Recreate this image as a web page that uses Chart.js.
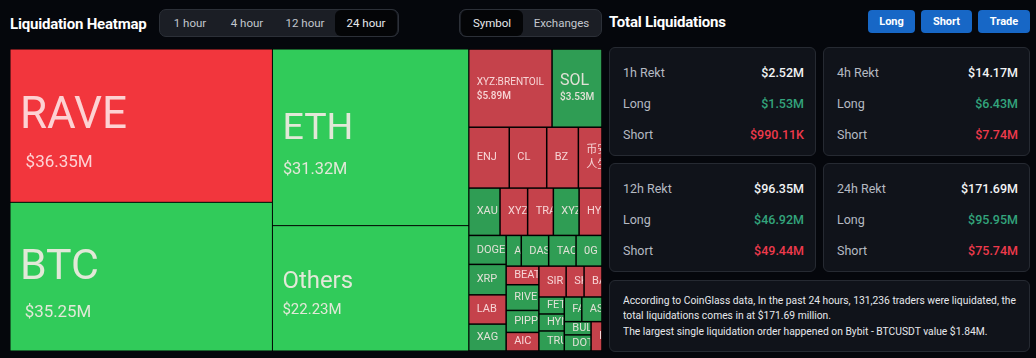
<!DOCTYPE html>
<html>
<head>
<meta charset="utf-8">
<script src="https://cdn.jsdelivr.net/npm/chart.js@4.4.1/dist/chart.umd.min.js"></script>
<style>
body{margin:0;background:#05070c;width:1036px;height:358px;overflow:hidden;font-family:Roboto,"Noto Sans",sans-serif;color:#fff;position:relative}
.title{position:absolute;font-weight:700;font-size:15px;letter-spacing:-0.2px;line-height:18px}
.seg{position:absolute;top:9px;height:28px;box-sizing:border-box;border:1px solid #2c3038;border-radius:7px;background:#1b1e25;display:flex;align-items:center;padding:0 1px}
.seg span{font-size:11.5px;color:#c3c7ce;text-align:center;height:26px;line-height:26px;border-radius:6px}
.seg span.on{background:#040507;color:#e8eaee}
.btn{position:absolute;top:10px;height:23px;line-height:23px;border-radius:4px;background:#1767c6;color:#fff;font-weight:700;font-size:11px;text-align:center}
.card{position:absolute;box-sizing:border-box;background:#10131a;border:1px solid #262a32;border-radius:6px}
.row{position:absolute;left:13px;right:11px;display:flex;justify-content:space-between;font-size:12.5px;height:16px;line-height:16px}
.row .k{color:#b5bac2}
.row .v{font-weight:500;color:#f2f3f5}
.row .v.g{color:#33a47c}
.row .v.r{color:#ee3a4c}
.info{position:absolute;left:13px;top:12px;font-size:11px;line-height:15.4px;color:#e6e8ec;white-space:nowrap;transform-origin:0 0}
.info span{display:block}
#heat{position:absolute;left:10px;top:49px}
</style>
</head>
<body>
<div class="title" style="left:10px;top:15px">Liquidation Heatmap</div>
<div class="seg" style="left:159px">
  <span style="width:58px">1 hour</span><span style="width:56px">4 hour</span><span style="width:60px">12 hour</span><span class="on" style="width:62px">24 hour</span>
</div>
<div class="seg" style="left:459px">
  <span class="on" style="width:62px">Symbol</span><span style="width:77px">Exchanges</span>
</div>

<canvas id="heat" width="592" height="302"></canvas>

<div class="title" style="left:609px;top:13px">Total Liquidations</div>
<div class="btn" style="left:868px;width:47px">Long</div>
<div class="btn" style="left:921px;width:51px">Short</div>
<div class="btn" style="left:978px;width:52px">Trade</div>

<div id="cards"></div>
<div class="card" style="left:609px;top:280px;width:421px;height:72px">
  <div class="info" id="info">
    <span id="line1">According to CoinGlass data, In the past 24 hours, 131,236 traders were liquidated, the</span>
    <span>total liquidations comes in at $171.69 million.</span>
    <span>The largest single liquidation order happened on Bybit - BTCUSDT value $1.84M.</span>
  </div>
</div>

<script>
// Treemap data (millions USD)
const symbols = ['RAVE', 'BTC', 'ETH', 'Others', 'XYZ:BRENTOIL', 'SOL', 'ENJ', 'CL', 'BZ', '币安人生',
  'XAU', 'XYZ:CL', 'TRADOOR', 'XYZ:SP500', 'HYPE', 'DOGE', 'XRP', 'LAB', 'XAG', 'AVAX',
  'DASH', 'TAO', '0G', 'BEAT', 'RIVER', 'PIPPIN', 'AIC', 'SIR', 'SKY', 'BANK',
  'FET', 'HYNA', 'TRUMP', 'FARTCOIN', 'ASTER', 'BULLA', 'DOT', 'INJ'];
const values = [36.35, 35.25, 31.32, 22.23, 5.89, 3.53, 2.23, 2.06, 1.74, 1.30,
  1.34, 1.18, 1.10, 1.10, 0.98, 0.98, 1.03, 0.99, 0.91, 0.42,
  0.76, 0.76, 0.72, 0.55, 0.76, 0.65, 0.55, 0.76, 0.50, 0.50,
  0.39, 0.39, 0.46, 0.39, 0.45, 0.32, 0.39, 0.29];
const direction = ['down', 'up', 'up', 'up', 'down', 'up', 'down', 'down', 'down', 'down',
  'up', 'down', 'down', 'up', 'down', 'up', 'up', 'down', 'up', 'up',
  'up', 'up', 'up', 'down', 'up', 'up', 'down', 'down', 'down', 'down',
  'up', 'up', 'up', 'up', 'up', 'up', 'up', 'down'];

// Summary cards
const periods = ['1h', '4h', '12h', '24h'];
const rektTotal = ['$2.52M', '$14.17M', '$96.35M', '$171.69M'];
const rektLong = ['$1.53M', '$6.43M', '$46.92M', '$95.95M'];
const rektShort = ['$990.11K', '$7.74M', '$49.44M', '$75.74M'];

const cardBox = [[609, 47], [823, 47], [609, 163], [823, 163]];
const cardsEl = document.getElementById('cards');
periods.forEach((p, i) => {
  const c = document.createElement('div');
  c.className = 'card';
  c.style.cssText = `left:${cardBox[i][0]}px;top:${cardBox[i][1]}px;width:207px;height:109px`;
  c.innerHTML = `
    <div class="row" style="top:17px"><span class="k">${p} Rekt</span><span class="v">${rektTotal[i]}</span></div>
    <div class="row" style="top:48px"><span class="k">Long</span><span class="v g">${rektLong[i]}</span></div>
    <div class="row" style="top:79px"><span class="k">Short</span><span class="v r">${rektShort[i]}</span></div>`;
  cardsEl.appendChild(c);
});

// squeeze the info text so the first line ends where the reference wraps
const l1 = document.getElementById('line1');
const squeeze = 393 / l1.getBoundingClientRect().width;
document.getElementById('info').style.transform = `scaleX(${squeeze})`;

// squarified layout (golden square ratio), items kept in given order
const SQUARE_RATIO = 0.5 * (1 + Math.sqrt(5));
function worst(row, side) {
  const s = row.reduce((a, b) => a + b, 0);
  const mx = Math.max(...row), mn = Math.min(...row);
  const f = side * side * SQUARE_RATIO;
  return Math.max(f * mx / (s * s), (s * s) / (f * mn));
}
function squarify(vals, W, H) {
  const total = vals.reduce((a, b) => a + b, 0);
  const areas = vals.map(v => v * W * H / total);
  const out = [];
  let x = 0, y = 0, w = W, h = H, i = 0;
  while (i < areas.length) {
    const side = Math.min(w, h);
    let row = [areas[i]], j = i + 1;
    while (j < areas.length && worst(row.concat(areas[j]), side) <= worst(row, side)) {
      row.push(areas[j]); j++;
    }
    const s = row.reduce((a, b) => a + b, 0);
    const thick = j >= areas.length ? (w >= h ? w : h) : s / side;
    if (w >= h) {
      let yy = y;
      row.forEach(a => { out.push({ x: x, y: yy, w: thick, h: a * h / s }); yy += a * h / s; });
      x += thick; w -= thick;
    } else {
      let xx = x;
      row.forEach(a => { out.push({ x: xx, y: y, w: a * w / s, h: thick }); xx += a * w / s; });
      y += thick; h -= thick;
    }
    i = j;
  }
  return out;
}

function tileColor(i) {
  const big = values[i] > 10;
  if (direction[i] === 'down') return big ? '#f2363d' : '#c5424b';
  return big ? '#31cb5a' : '#2f9d54';
}

const treemapPlugin = {
  id: 'treemap',
  afterDatasetsDraw(chart) {
    const ctx = chart.ctx;
    const xs = chart.scales.x, ys = chart.scales.y;
    const W = xs.getPixelForValue(1) - xs.getPixelForValue(0);
    const H = ys.getPixelForValue(1) - ys.getPixelForValue(0);
    const rects = squarify(values, W, H);
    ctx.save();
    ctx.fillStyle = '#000';
    ctx.fillRect(xs.getPixelForValue(0), ys.getPixelForValue(0), W, H);
    rects.forEach((r, i) => {
      const px = xs.getPixelForValue(r.x / W), py = ys.getPixelForValue(r.y / H);
      const pw = xs.getPixelForValue((r.x + r.w) / W) - px;
      const ph = ys.getPixelForValue((r.y + r.h) / H) - py;
      const gap = values[i] > 10 ? 0.5 : 0.75;
      ctx.fillStyle = tileColor(i);
      ctx.fillRect(px + gap, py + gap, pw - 2 * gap, ph - 2 * gap);

      ctx.save();
      ctx.beginPath();
      ctx.rect(px + 1, py + 1, pw - 2, ph - 2);
      ctx.clip();
      ctx.fillStyle = 'rgba(255,236,236,0.86)';
      ctx.textBaseline = 'middle';
      const cy = py + ph / 2;
      const name = symbols[i];
      const val = '$' + values[i].toFixed(2) + 'M';
      const s = Math.sqrt(pw * ph);
      if (s > 140) {
        const fs = Math.min(44, 24 + (s - 157) * 0.465);
        const vs = 15 + (fs - 24) / 10;
        const g = 0.85 * fs + 0.5 * vs;
        const mid = cy + 0.33 * fs;
        ctx.font = `400 ${fs}px Roboto`;
        ctx.fillText(name, px + 10, mid - g / 2);
        ctx.font = `400 ${vs}px Roboto`;
        ctx.fillText(val, px + 10 + Math.max(0, (fs - 37) * 0.8), mid + g / 2);
      } else if (values[i] >= 3) {
        ctx.font = '400 10px Roboto';
        const w10 = ctx.measureText(name).width;
        const fs = Math.min(16, 10 * (pw - 16) / w10);
        const vs = 10;
        const g = 0.5 * fs + 0.5 * vs + 4;
        ctx.font = `400 ${fs}px Roboto`;
        ctx.fillText(name, px + 8, cy - g / 2 + 1);
        ctx.font = `500 ${vs}px Roboto`;
        ctx.fillText(val, px + 8, cy + g / 2 + 1);
      } else {
        ctx.font = '400 11px Roboto, "Noto Sans CJK SC"';
        const cjk = /[\u4e00-\u9fff]/.test(name);
        if (cjk && ctx.measureText(name).width > pw - 10) {
          const half = Math.ceil(name.length / 2);
          ctx.fillText(name.slice(0, half), px + 8, cy - 7.5);
          ctx.fillText(name.slice(half), px + 8, cy + 7.5);
        } else {
          ctx.fillText(name, px + 8, cy);
        }
      }
      ctx.restore();
    });
    ctx.restore();
  }
};

new Chart(document.getElementById('heat'), {
  type: 'scatter',
  data: { datasets: [{ data: [] }] },
  options: {
    responsive: false,
    animation: false,
    devicePixelRatio: 1,
    layout: { padding: 0 },
    scales: {
      x: { display: false, min: 0, max: 1 },
      y: { display: false, min: 0, max: 1, reverse: true }
    },
    plugins: { legend: { display: false }, tooltip: { enabled: false } }
  },
  plugins: [treemapPlugin]
});
</script>
</body>
</html>
